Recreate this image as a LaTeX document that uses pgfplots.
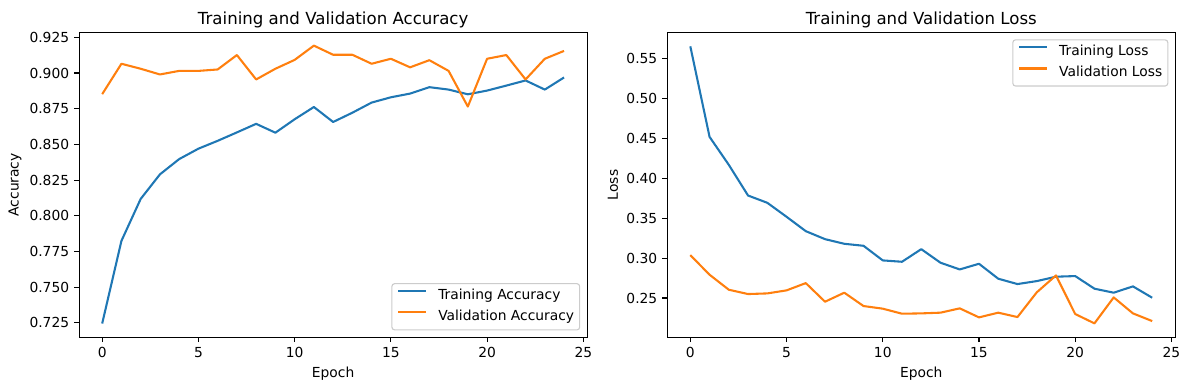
\documentclass[border=0pt]{standalone}
\usepackage{fontspec}
\setmainfont{DejaVu Sans}
\usepackage{pgfplots}
\usepackage{pgfplotstable}
\pgfplotsset{compat=1.18}
\definecolor{tabblue}{RGB}{31,119,180}
\definecolor{taborange}{RGB}{255,127,14}
\definecolor{legedge}{RGB}{204,204,204}

\pgfplotstableread{
ep tacc vacc tloss vloss
0  0.7245 0.8852 0.5650 0.3037
1  0.7824 0.9065 0.4517 0.2792
2  0.8118 0.9030 0.4167 0.2604
3  0.8290 0.8990 0.3783 0.2550
4  0.8397 0.9015 0.3692 0.2558
5  0.8470 0.9015 0.3517 0.2596
6  0.8525 0.9025 0.3337 0.2687
7  0.8584 0.9126 0.3237 0.2454
8  0.8644 0.8955 0.3179 0.2567
9  0.8582 0.9030 0.3154 0.2400
10 0.8676 0.9092 0.2971 0.2367
11 0.8762 0.9192 0.2954 0.2304
12 0.8657 0.9128 0.3112 0.2308
13 0.8722 0.9128 0.2942 0.2317
14 0.8793 0.9065 0.2858 0.2371
15 0.8830 0.9100 0.2929 0.2258
16 0.8856 0.9040 0.2742 0.2317
17 0.8901 0.9090 0.2675 0.2262
18 0.8884 0.9015 0.2712 0.2571
19 0.8851 0.8765 0.2767 0.2783
20 0.8877 0.9100 0.2775 0.2300
21 0.8912 0.9126 0.2617 0.2183
22 0.8948 0.8955 0.2567 0.2508
23 0.8884 0.9100 0.2646 0.2308
24 0.8969 0.9155 0.2504 0.2212
}\hist

\pgfplotsset{
  legend image code/.code={\draw[#1] (0pt,3.6pt) -- (20pt,3.6pt); \path (28pt,0pt);},
  mystyle/.style={
    scale only axis, width=365.8bp, height=219.6bp,
    axis line style={line width=0.8pt, black},
    tick align=outside, major tick length=3.5pt,
    tick style={line width=0.8pt, black},
    xtick pos=left, ytick pos=left,
    xmin=-1.2, xmax=25.2, xtick={0,5,10,15,20,25},
    tick label style={font=\fontsize{10}{12}\selectfont, inner sep=0pt},
    xticklabel shift=3.5pt, yticklabel shift=3.5pt,
    /pgf/number format/assume math mode=true,
    title style={font=\fontsize{12}{14}\selectfont, anchor=base, inner sep=0pt, at={(axis description cs:0.5,1)}},
    xlabel style={font=\fontsize{10}{12}\selectfont, anchor=base, inner sep=0pt, at={(axis description cs:0.5,-0.1302)}},
    ylabel style={font=\fontsize{10}{12}\selectfont, anchor=south, inner sep=0pt},
    legend cell align=left,
    legend style={draw=legedge, line width=0.8pt, rounded corners=2pt, fill=white,
      fill opacity=0.8, text opacity=1, inner xsep=4pt, inner ysep=4pt,
      row sep=5pt, font=\fontsize{10}{12}\selectfont,
      nodes={inner sep=0pt, text height=7.6pt, text depth=2.6pt}},
    every axis plot/.append style={line width=1.5pt, line join=round, mark=none},
  }
}

\begin{document}
\begin{tikzpicture}
\path[use as bounding box] (0,0) rectangle (856.08bp,280.8bp);
\begin{axis}[mystyle,
  at={(56.95bp,37.9bp)}, anchor=south west,
  title={Training and Validation Accuracy},
  xlabel={Epoch}, ylabel={Accuracy},
  ylabel style={at={(axis description cs:-0.1129,0.5)}},
  ymin=0.7148, ymax=0.9285,
  ytick={0.725,0.75,0.775,0.8,0.825,0.85,0.875,0.9,0.925},
  yticklabel style={/pgf/number format/.cd, fixed, fixed zerofill, precision=3},
  legend style={at={(axis description cs:1,0)}, anchor=south east, xshift=-5pt, yshift=5pt},
]
\addplot[tabblue] table[x=ep, y=tacc] {\hist};
\addlegendentry{Training Accuracy}
\addplot[taborange] table[x=ep, y=vacc] {\hist};
\addlegendentry{Validation Accuracy}
\end{axis}
\begin{axis}[mystyle,
  at={(480.4bp,37.9bp)}, anchor=south west,
  title={Training and Validation Loss},
  xlabel={Epoch}, ylabel={Loss},
  ylabel style={at={(axis description cs:-0.0962,0.5)}},
  ymin=0.2008, ymax=0.5825,
  ytick={0.25,0.3,0.35,0.4,0.45,0.5,0.55},
  yticklabel style={/pgf/number format/.cd, fixed, fixed zerofill, precision=2},
  legend style={at={(axis description cs:1,1)}, anchor=north east, xshift=-5pt, yshift=-5pt},
]
\addplot[tabblue] table[x=ep, y=tloss] {\hist};
\addlegendentry{Training Loss}
\addplot[taborange] table[x=ep, y=vloss] {\hist};
\addlegendentry{Validation Loss}
\end{axis}
\end{tikzpicture}
\end{document}
